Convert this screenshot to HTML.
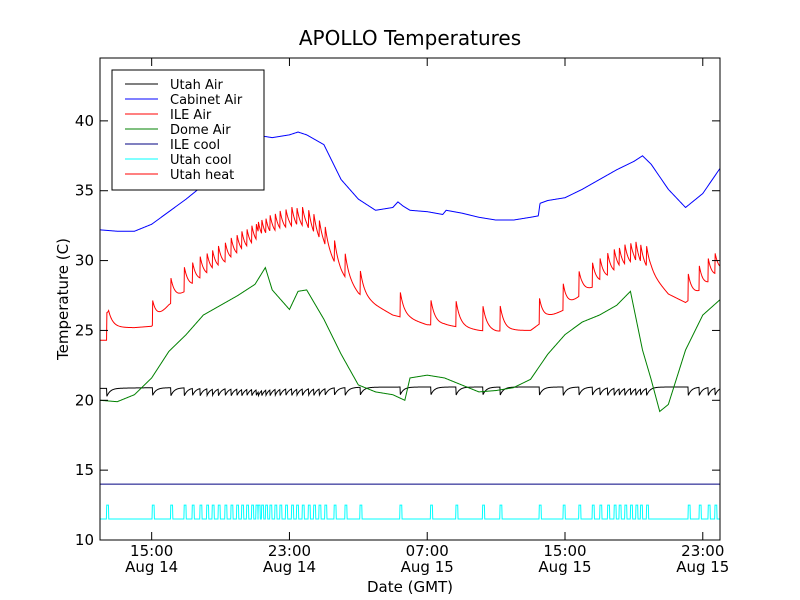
<!DOCTYPE html>
<html><head><meta charset="utf-8"><style>
body{margin:0;background:#fff;}
svg{display:block;font-family:"DejaVu Sans","Liberation Sans",sans-serif;}
</style></head><body>
<svg id="chart" width="800" height="600" viewBox="0 0 800 600" xmlns="http://www.w3.org/2000/svg">
<rect width="800" height="600" fill="#fff"/>
<text x="410" y="45" font-size="20" text-anchor="middle">APOLLO Temperatures</text>
<g id="series"></g>
<rect x="100" y="58" width="620" height="482" fill="none" stroke="#000" stroke-width="1"/>
<g id="ticks"></g>
<text x="410" y="592" font-size="15" text-anchor="middle">Date (GMT)</text>
<text x="68" y="299" font-size="15" text-anchor="middle" transform="rotate(-90 68 299)">Temperature (C)</text>
<g id="legend"></g>
</svg>
<script>
// x in hours since Aug 14 00:00 GMT
const cabHours = [12,13,14,15,16,17,18,19,20,21,22,23,23.5,24,25,26,27,28,29,29.3,29.6,30,31,31.9,32.1,33,34,35,36,37,37.45,37.55,38,39,40,41,42,43,43.5,44,45,46,47,48];
const cabVals  = [32.2,32.1,32.1,32.6,33.5,34.4,35.4,36.9,37.9,39.0,38.8,39.0,39.2,39.0,38.3,35.8,34.4,33.6,33.8,34.2,33.9,33.6,33.5,33.3,33.6,33.4,33.1,32.9,32.9,33.1,33.2,34.1,34.3,34.5,35.1,35.8,36.5,37.1,37.5,36.9,35.1,33.8,34.8,36.6];
const domeHours = [12,13,14,15,16,17,18,19,20,21,21.6,22,23,23.5,24,25,26,27,28,29,29.7,30,31,32,33,34,35,36,37,38,39,40,41,42,42.8,43.5,44,44.5,45,46,47,48];
const domeVals  = [20.0,19.9,20.4,21.6,23.5,24.7,26.1,26.8,27.5,28.3,29.5,27.9,26.5,27.8,27.9,25.8,23.3,21.1,20.6,20.4,20.0,21.6,21.8,21.6,21.1,20.6,20.7,20.9,21.5,23.3,24.7,25.6,26.1,26.8,27.8,23.6,21.5,19.2,19.7,23.6,26.1,27.2];
const ileHours = [12,12.38,12.5,13,14,15,16,17,18,19,20,21,22,23,24,25,26,27,28,29,30,31,32,33,34,35,36,37,38,39,40,41,42,43,44,45,46,47,48];
const ileVals  = [24.3,24.3,25.2,25.2,25.2,25.3,26.8,27.8,28.6,29.3,30.1,30.8,31.5,32.0,32.0,30.8,29.0,27.6,26.8,26.1,25.8,25.4,25.4,25.2,25.0,24.9,25.0,25.0,25.9,26.5,27.6,28.3,29.0,29.5,29.0,27.6,27.0,27.9,29.0];
const utahHours = [12,15,20,30,40,48];
const utahVals  = [20.85,20.9,20.9,20.95,20.95,20.95];
const cycleEvents = [12.39,15.04,16.11,16.89,17.36,17.81,18.20,18.52,18.87,19.26,19.61,19.94,20.23,20.52,20.81,21.06,21.19,21.39,21.62,21.87,22.16,22.45,22.78,23.13,23.42,23.75,24.10,24.41,24.72,25.06,25.60,26.23,27.10,29.42,31.20,32.67,34.22,35.23,37.51,38.90,39.81,40.59,41.03,41.48,41.86,42.15,42.48,42.81,43.12,43.39,43.74,46.16,46.80,47.32,47.71];
const ileCoolVal = [14.0];
const utahCoolLevels = [11.5, 12.5];
const xTickHours = [15,23,31,39,47];
const xTickLabels = [["15:00","Aug 14"],["23:00","Aug 14"],["07:00","Aug 15"],["15:00","Aug 15"],["23:00","Aug 15"]];
const yTicks = [10,15,20,25,30,35,40];
const legendNames = ["Utah Air","Cabinet Air","ILE Air","Dome Air","ILE cool","Utah cool","Utah heat"];
const legendColors = ["#000","#0000ff","#ff0000","#008000","#000080","#00ffff","#ff0000"];

const X0=100,X1=720,Y0=540,Y1=58, H0=12,H1=48, V0=10,V1=44.5;
const xs = h => X0+(h-H0)/(H1-H0)*(X1-X0);
const ys = v => Y0-(v-V0)/(V1-V0)*(Y0-Y1);
const NS="http://www.w3.org/2000/svg";
function interp(hs,vs,h){
  if(h<=hs[0])return vs[0];
  for(let i=1;i<hs.length;i++){ if(h<=hs[i]){const t=(h-hs[i-1])/(hs[i]-hs[i-1]);return vs[i-1]+t*(vs[i]-vs[i-1]);} }
  return vs[vs.length-1];
}
function spikes(h,amp,tau){
  let s=0;
  for(const e of cycleEvents){ if(h>=e && h-e<2.5) s=Math.max(s,amp*Math.exp(-(h-e)/tau)); }
  return s;
}
const g=document.getElementById('series');
function addPath(d,color,name){
  const p=document.createElementNS(NS,'path');
  p.setAttribute('d',d);p.setAttribute('fill','none');p.setAttribute('stroke',color);p.setAttribute('stroke-width','1');
  
  
  g.appendChild(p);
}
function lineD(fn){
  let d='';
  for(let h=H0;h<=H1+1e-9;h+=0.02){ d+=(d?'L':'M')+xs(h).toFixed(2)+','+ys(fn(h)).toFixed(2); }
  return d;
}
addPath('M'+xs(H0)+','+ys(ileCoolVal[0])+'L'+xs(H1)+','+ys(ileCoolVal[0]),'#000080','ile-cool-line');
let dc='M'+xs(H0)+','+ys(utahCoolLevels[0]);
for(const e of cycleEvents){
  dc+='L'+xs(e-0.02).toFixed(2)+','+ys(utahCoolLevels[0])+'L'+xs(e).toFixed(2)+','+ys(utahCoolLevels[1])+'L'+xs(e+0.1).toFixed(2)+','+ys(utahCoolLevels[1])+'L'+xs(e+0.12).toFixed(2)+','+ys(utahCoolLevels[0]);
}
dc+='L'+xs(H1)+','+ys(utahCoolLevels[0]);
addPath(dc,'#00ffff','utah-cool-line');
addPath(lineD(h=>interp(utahHours,utahVals,h)-spikes(h,0.6,0.2)),'#000','utah-air-line');
addPath(lineD(h=>interp(domeHours,domeVals,h)),'#008000','dome-air-line');
addPath(lineD(h=>interp(ileHours,ileVals,h)+spikes(h,1.9,0.25)),'#ff0000','ile-air-line');
addPath(lineD(h=>interp(cabHours,cabVals,h)),'#0000ff','cabinet-air-line');

const t=document.getElementById('ticks');
function el(tag,attrs,txt){const e=document.createElementNS(NS,tag);for(const k in attrs)e.setAttribute(k,attrs[k]);if(txt!==undefined)e.textContent=txt;t.appendChild(e);return e;}
xTickHours.forEach((h,i)=>{
  const x=xs(h);
  const a=el('line',{x1:x,y1:Y0,x2:x,y2:Y0-8,stroke:'#000'});
  
  
  const b=el('line',{x1:x,y1:Y1,x2:x,y2:Y1+8,stroke:'#000'});
  
  
  const l1=el('text',{x:x,y:556,'font-size':15,'text-anchor':'middle'},xTickLabels[i][0]);
  
  
  const l2=el('text',{x:x,y:572,'font-size':15,'text-anchor':'middle'},xTickLabels[i][1]);
  
  
});
yTicks.forEach(v=>{
  const y=ys(v);
  const a=el('line',{x1:X0,y1:y,x2:X0+8,y2:y,stroke:'#000'});
  
  
  const b=el('line',{x1:X1,y1:y,x2:X1-8,y2:y,stroke:'#000'});
  
  
  const l=el('text',{x:94,y:y+5,'font-size':15,'text-anchor':'end'},String(v));
  
  
});

const lg=document.getElementById('legend');
const box=document.createElementNS(NS,'rect');
box.setAttribute('x',112);box.setAttribute('y',70);box.setAttribute('width',152);box.setAttribute('height',120);
box.setAttribute('fill','#fff');box.setAttribute('stroke','#000');


lg.appendChild(box);
legendNames.forEach((n,i)=>{
  const y=84+i*15;
  const ln=document.createElementNS(NS,'line');
  ln.setAttribute('x1',125);ln.setAttribute('x2',158);ln.setAttribute('y1',y);ln.setAttribute('y2',y);ln.setAttribute('stroke',legendColors[i]);
  
  
  lg.appendChild(ln);
  const tx=document.createElementNS(NS,'text');
  tx.setAttribute('x',170);tx.setAttribute('y',y+5);tx.setAttribute('font-size',13);tx.textContent=n;
  
  
  lg.appendChild(tx);
});
</script>
</body></html>
